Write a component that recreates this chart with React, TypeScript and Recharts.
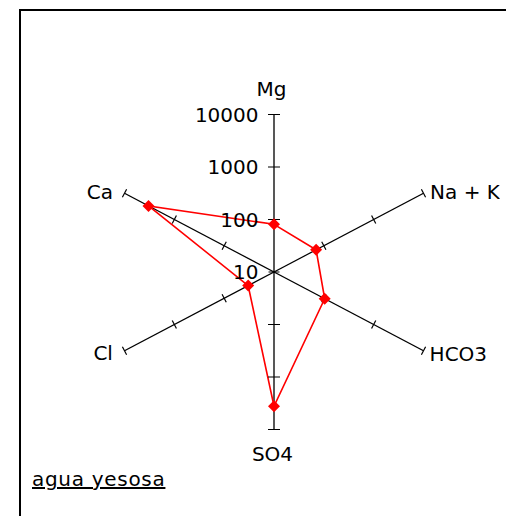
import { RadarChart, Radar, PolarGrid, PolarAngleAxis, PolarRadiusAxis } from 'recharts';

// ion concentrations (log axis, 10 .. 10000)
const categories = ['Mg', 'Na + K', 'HCO3', 'SO4', 'Cl', 'Ca'];
const values = [81, 70, 104, 3600, 33, 3300];
const radiusTicks = [10, 100, 1000, 10000];
const title = 'agua yesosa';

// the original drawing is a bit wider than tall
const K = 1.096;
const CX = 274;
const CY = 272;
const R = 157.5;
const FONT = '"DejaVu Sans", sans-serif';

const tickKeys = radiusTicks.slice(1).map((t) => `t${t}`);

const data = categories.map((name, i) => {
  const row: Record<string, number | string> = { name, lv: Math.log10(values[i]) };
  radiusTicks.slice(1).forEach((t) => {
    row[`t${t}`] = Math.log10(t);
  });
  return row;
});

const labelPos: Record<string, { dx: number; dy: number; anchor: 'start' | 'middle' | 'end' }> = {
  Mg: { dx: -2.5, dy: -10.5, anchor: 'middle' },
  'Na + K': { dx: -1, dy: 10, anchor: 'start' },
  HCO3: { dx: -1.5, dy: 6, anchor: 'start' },
  SO4: { dx: -1.5, dy: 23, anchor: 'middle' },
  Cl: { dx: -4, dy: 5.5, anchor: 'end' },
  Ca: { dx: -4, dy: 9.5, anchor: 'end' },
};

const unstretch = (x: number, y: number) => `translate(${x},${y}) scale(${1 / K},1)`;

function AngleTick(props: any) {
  const { x, y, payload } = props;
  const p = labelPos[payload.value] || { dx: 0, dy: 0, anchor: 'middle' };
  return (
    <g transform={unstretch(x, y)}>
      <text x={p.dx} y={p.dy} textAnchor={p.anchor} fontFamily={FONT} fontSize={20} fill="#000">
        {payload.value}
      </text>
    </g>
  );
}

function RadiusTick(props: any) {
  const { x, y, payload } = props;
  return (
    <g transform={unstretch(x, y)}>
      {payload.value === 1 && <line x1={-5.5} x2={5.5} y1={0} y2={0} stroke="#000" strokeWidth={1.2} />}
      <text x={-15.5} y={7} textAnchor="end" fontFamily={FONT} fontSize={20} fill="#000">
        {Math.round(Math.pow(10, payload.value))}
      </text>
    </g>
  );
}

function AxisMark(props: any) {
  const { cx, cy, index, payload } = props;
  if (cx == null || cy == null) return null;
  const angle = payload && typeof payload.angle === 'number' ? payload.angle : 90 - index * 60;
  const a = (angle * Math.PI) / 180;
  let px = Math.sin(a);
  let py = K * Math.cos(a);
  const len = Math.hypot(px, py);
  px /= len;
  py /= len;
  const h = Math.abs(Math.cos(a)) < 0.01 ? 6 : 4.5;
  return (
    <g key={`m${index}`} transform={unstretch(cx, cy)}>
      <line x1={-px * h} y1={-py * h} x2={px * h} y2={py * h} stroke="#000" strokeWidth={1.2} />
    </g>
  );
}

function Diamond(props: any) {
  const { cx, cy, index } = props;
  if (cx == null || cy == null) return null;
  return (
    <g key={`d${index}`} transform={unstretch(cx, cy)}>
      <polygon points="0,-6 6,0 0,6 -6,0" fill="#ff0000" />
    </g>
  );
}

export default function App() {
  return (
    <div style={{ position: 'relative', width: 506, height: 516, background: '#fff' }}>
      <style>{'body{margin:0;overflow:hidden}'}</style>
      <div
        style={{
          position: 'absolute',
          left: 19,
          top: 9,
          width: 487,
          height: 507,
          boxSizing: 'border-box',
          borderLeft: '2px solid #000',
          borderTop: '2px solid #000',
        }}
      />
      <div
        style={{
          position: 'absolute',
          left: 0,
          top: 0,
          width: 480,
          height: 516,
          transform: `scaleX(${K})`,
          transformOrigin: `${CX}px 0px`,
        }}
      >
        <RadarChart
          width={480}
          height={516}
          cx={CX}
          cy={CY}
          outerRadius={R}
          data={data}
          margin={{ top: 0, right: 0, bottom: 0, left: 0 }}
        >
          <PolarGrid gridType="polygon" polarRadius={[]} stroke="#000" strokeWidth={1.2} strokeOpacity={1} />
          <PolarAngleAxis dataKey="name" axisLine={false} tickLine={false} tick={<AngleTick />} />
          <PolarRadiusAxis
            angle={90}
            type="number"
            domain={[1, 4]}
            ticks={radiusTicks.map((t) => Math.log10(t))}
            axisLine={false}
            tickLine={false}
            tick={<RadiusTick />}
          />
          {tickKeys.map((k) => (
            <Radar key={k} dataKey={k} stroke="none" fill="none" dot={AxisMark} isAnimationActive={false} />
          ))}
          <Radar
            dataKey="lv"
            stroke="#ff0000"
            strokeWidth={1.5}
            fill="none"
            dot={Diamond}
            isAnimationActive={false}
          />
        </RadarChart>
      </div>
      <div
        style={{
          position: 'absolute',
          left: 32,
          top: 469,
          fontFamily: FONT,
          fontSize: 20,
          lineHeight: '20px',
          letterSpacing: '0.7px',
          textDecoration: 'underline',
          color: '#000',
          whiteSpace: 'nowrap',
        }}
      >
        {title}
      </div>
    </div>
  );
}
